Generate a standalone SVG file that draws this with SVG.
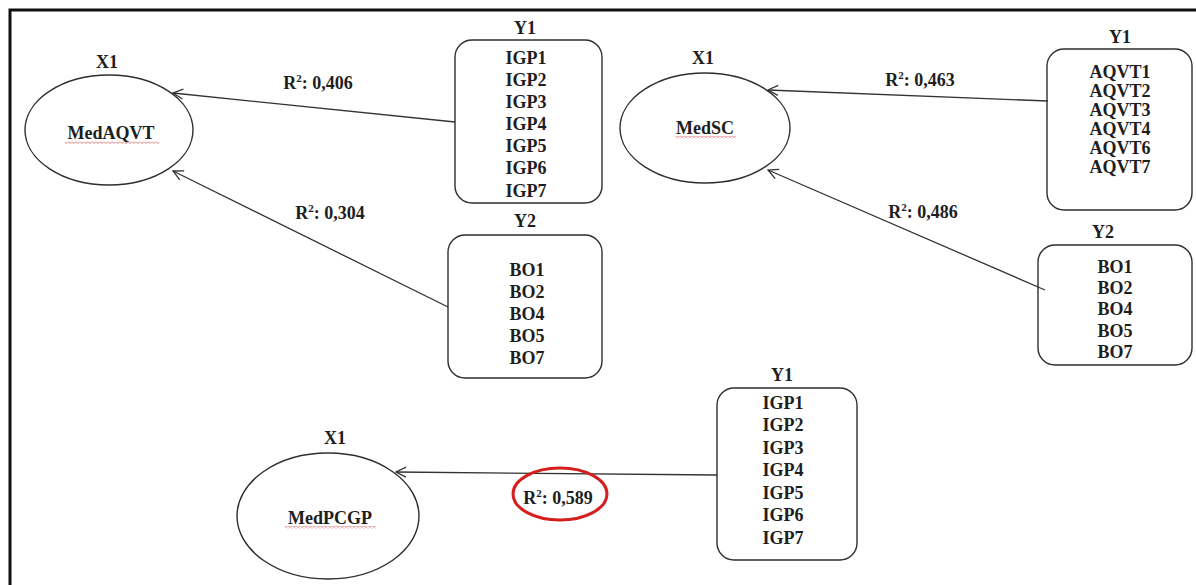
<svg xmlns="http://www.w3.org/2000/svg" width="1196" height="585" viewBox="0 0 1196 585">
<style>
  text { font-family: "Liberation Serif", "Times New Roman", serif; font-weight: bold; font-size: 18px; fill: #1e1e1e; text-anchor: middle; }
  .node { fill: #ffffff; stroke: #2e2e2e; stroke-width: 1.4; }
  .edge { stroke: #333333; stroke-width: 1.3; fill: none; marker-end: url(#arr); }
  .frame { stroke: #111111; stroke-width: 3; fill: none; }
  .sup { font-size: 11px; }
</style>
<defs>
  <marker id="arr" viewBox="0 0 12 12" refX="11" refY="6" markerWidth="12" markerHeight="12" markerUnits="userSpaceOnUse" orient="auto">
    <path d="M1,1 L11,6 L1,11" fill="none" stroke="#333333" stroke-width="1.3"/>
  </marker>
  <pattern id="wave" width="4" height="3" patternUnits="userSpaceOnUse">
    <path d="M0,0.5 L2,2.5 L4,0.5" fill="none" stroke="#d9534f" stroke-width="0.8"/>
  </pattern>
</defs>
<rect x="0" y="0" width="1196" height="585" fill="#ffffff"/>
<g id="frame">
  <path class="frame" d="M10,585 L10,10 L1196,10"/>
</g>
<g id="node-medaqvt">
  <text x="107" y="68">X1</text>
  <ellipse class="node" cx="109" cy="130" rx="84" ry="55"/>
  <text x="111" y="139">MedAQVT</text>
  <rect x="65" y="141" width="94" height="3" fill="url(#wave)"/>
</g>
<g id="node-y1-igp-top">
  <text x="525" y="34">Y1</text>
  <rect class="node" x="455" y="40" width="147" height="163" rx="17"/>
  <text x="526" y="64">IGP1</text>
  <text x="526" y="86">IGP2</text>
  <text x="526" y="108">IGP3</text>
  <text x="526" y="130">IGP4</text>
  <text x="526" y="152">IGP5</text>
  <text x="526" y="174">IGP6</text>
  <text x="526" y="197">IGP7</text>
</g>
<g id="node-y2-bo-left">
  <text x="525" y="227">Y2</text>
  <rect class="node" x="448" y="235" width="154" height="143" rx="17"/>
  <text x="527" y="276">BO1</text>
  <text x="527" y="298">BO2</text>
  <text x="527" y="320">BO4</text>
  <text x="527" y="342">BO5</text>
  <text x="527" y="364">BO7</text>
</g>
<g id="node-medsc">
  <text x="703" y="64">X1</text>
  <ellipse class="node" cx="705" cy="128" rx="85" ry="55"/>
  <text x="705" y="134">MedSC</text>
  <rect x="675" y="136" width="61" height="3" fill="url(#wave)"/>
</g>
<g id="node-y1-aqvt">
  <text x="1120" y="43">Y1</text>
  <rect class="node" x="1047" y="49" width="145" height="161" rx="17"/>
  <text x="1120" y="78">AQVT1</text>
  <text x="1120" y="97">AQVT2</text>
  <text x="1120" y="116">AQVT3</text>
  <text x="1120" y="135">AQVT4</text>
  <text x="1120" y="154">AQVT6</text>
  <text x="1120" y="173">AQVT7</text>
</g>
<g id="node-y2-bo-right">
  <text x="1103" y="238">Y2</text>
  <rect class="node" x="1038" y="245" width="154" height="120" rx="17"/>
  <text x="1115" y="273">BO1</text>
  <text x="1115" y="294">BO2</text>
  <text x="1115" y="315">BO4</text>
  <text x="1115" y="337">BO5</text>
  <text x="1115" y="358">BO7</text>
</g>
<g id="node-medpcgp">
  <text x="335" y="444">X1</text>
  <ellipse class="node" cx="328" cy="516" rx="91" ry="63"/>
  <text x="330" y="524">MedPCGP</text>
  <rect x="285" y="526" width="91" height="3" fill="url(#wave)"/>
</g>
<g id="node-y1-igp-bottom">
  <text x="782" y="381">Y1</text>
  <rect class="node" x="717" y="388" width="140" height="172" rx="17"/>
  <text x="783" y="409">IGP1</text>
  <text x="783" y="431">IGP2</text>
  <text x="783" y="454">IGP3</text>
  <text x="783" y="476">IGP4</text>
  <text x="783" y="499">IGP5</text>
  <text x="783" y="521">IGP6</text>
  <text x="783" y="544">IGP7</text>
</g>
<g id="connectors">
  <line class="edge" x1="455" y1="122" x2="173" y2="93"/>
  <line class="edge" x1="448" y1="307" x2="173" y2="171"/>
  <line class="edge" x1="1048" y1="101" x2="768" y2="90"/>
  <line class="edge" x1="1045" y1="290" x2="768" y2="170"/>
  <line class="edge" x1="717" y1="475" x2="396" y2="472"/>
</g>
<g id="labels">
  <text x="318" y="89">R<tspan class="sup" dy="-7">2</tspan><tspan dy="7">: 0,406</tspan></text>
  <text x="330" y="219">R<tspan class="sup" dy="-7">2</tspan><tspan dy="7">: 0,304</tspan></text>
  <text x="920" y="86">R<tspan class="sup" dy="-7">2</tspan><tspan dy="7">: 0,463</tspan></text>
  <text x="923" y="218">R<tspan class="sup" dy="-7">2</tspan><tspan dy="7">: 0,486</tspan></text>
  <text x="558" y="504">R<tspan class="sup" dy="-7">2</tspan><tspan dy="7">: 0,589</tspan></text>
  <ellipse cx="560" cy="494" rx="47" ry="26" fill="none" stroke="#d41f1f" stroke-width="3"/>
</g>
</svg>
